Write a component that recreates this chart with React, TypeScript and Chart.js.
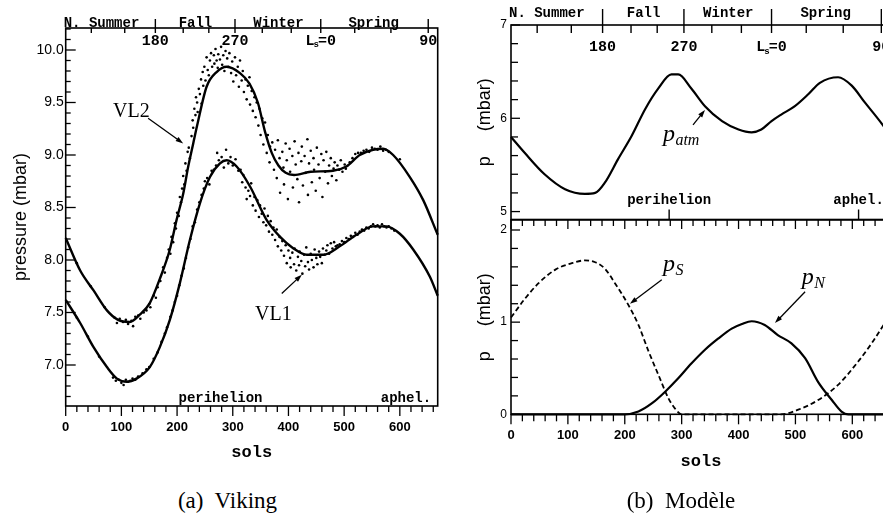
import React, { useEffect, useRef } from "react";
import { Chart, registerables } from "chart.js";

Chart.register(...registerables);

// ---------------- DATA ----------------
// (a) Viking: smoothed fits (sols -> mbar)
const vl2Sols = [0, 26, 50, 74, 94, 115, 133, 151, 169, 187, 199, 211, 220, 229, 236, 253, 271, 289, 313, 330, 345, 358, 370, 382, 395, 410, 440, 480, 504, 528, 552, 570, 588, 618, 642, 668];
const vl2P = [8.21, 7.9, 7.71, 7.52, 7.43, 7.41, 7.48, 7.59, 7.82, 8.1, 8.38, 8.63, 8.89, 9.11, 9.28, 9.65, 9.79, 9.84, 9.78, 9.68, 9.5, 9.22, 9.02, 8.9, 8.83, 8.81, 8.84, 8.85, 8.89, 9.0, 9.05, 9.06, 9.0, 8.79, 8.57, 8.24];
const vl1Sols = [0, 26, 50, 74, 92, 110, 127, 151, 169, 187, 205, 223, 241, 259, 277, 289, 307, 331, 361, 385, 409, 433, 463, 492, 522, 552, 576, 600, 624, 654, 668];
const vl1P = [7.62, 7.4, 7.17, 6.98, 6.87, 6.84, 6.87, 6.98, 7.17, 7.43, 7.78, 8.19, 8.54, 8.79, 8.92, 8.95, 8.89, 8.7, 8.38, 8.22, 8.11, 8.05, 8.05, 8.13, 8.24, 8.32, 8.32, 8.25, 8.1, 7.84, 7.66];

// (a) Viking: daily observations [sol, mbar]
const vl2Obs = [
  [20, 7.97], [45, 7.75], [70, 7.55], [88, 7.45], [92, 7.4], [97, 7.44], [103, 7.41], [108, 7.43], [112, 7.39], [118, 7.42], [121, 7.37], [125, 7.46], [130, 7.47], [134, 7.44], [140, 7.5], [145, 7.52], [150, 7.58], [152, 7.55], [158, 7.66], [162, 7.64], [165, 7.74], [170, 7.8],
  [175, 7.93], [178, 7.88], [182, 8.02], [185, 8.1], [188, 8.06], [190, 8.22], [193, 8.17], [196, 8.35], [198, 8.3], [200, 8.45], [203, 8.42], [205, 8.6], [207, 8.55], [209, 8.68], [211, 8.8], [213, 8.72], [215, 8.92], [217, 8.85], [219, 9.03], [221, 9.07], [223, 8.97],
  [226, 9.18], [228, 9.33], [229, 9.26], [231, 9.44], [233, 9.38], [234, 9.55], [236, 9.5], [237, 9.41], [239, 9.63], [241, 9.58], [243, 9.72], [244, 9.49], [246, 9.79], [247, 9.66], [249, 9.84], [251, 9.71], [253, 9.93], [255, 9.81], [257, 9.76], [259, 9.9], [261, 9.97], [263, 9.84], [266, 9.95], [267, 9.87], [269, 10.01], [271, 9.9], [273, 9.83], [274, 9.96], [277, 9.91], [279, 10.03], [281, 9.86], [283, 9.95], [285, 9.8], [287, 9.99], [290, 9.92], [292, 9.84], [294, 9.97], [297, 9.78], [299, 9.89], [301, 9.7], [304, 9.93], [306, 9.76], [309, 9.84], [311, 9.65], [313, 9.9], [316, 9.71], [318, 9.8], [320, 9.6], [323, 9.72], [325, 9.53], [327, 9.66], [330, 9.74], [331, 9.48], [334, 9.61], [336, 9.42], [339, 9.55], [341, 9.36], [343, 9.5], [346, 9.28], [348, 9.44], [350, 9.19], [353, 9.35], [355, 9.1],
  [358, 9.31], [361, 9.02], [363, 9.19], [366, 8.93], [367, 9.08], [371, 9.12], [374, 8.86], [376, 9.05], [379, 8.78], [381, 9.14], [384, 8.97], [385, 8.64], [389, 9.03], [391, 8.88], [392, 8.72], [395, 9.11], [397, 8.95], [399, 8.58], [402, 9.06], [403, 8.84], [407, 8.99], [408, 8.69], [411, 9.13], [413, 8.91], [416, 8.77], [418, 9.02], [419, 8.55], [423, 8.94], [424, 9.08], [426, 8.71], [429, 8.99], [431, 8.83], [434, 9.15], [435, 8.62], [437, 8.92], [440, 9.04], [442, 8.74], [445, 8.97], [446, 8.86], [449, 8.66], [451, 9.07], [454, 8.91], [456, 8.78], [459, 9.01], [461, 8.6], [463, 8.95], [466, 8.84], [468, 9.03], [471, 8.73], [473, 8.9], [476, 8.97], [478, 8.8], [481, 8.87], [483, 8.93], [486, 8.76], [488, 8.9], [491, 8.86], [494, 8.95], [497, 8.84], [501, 8.91], [503, 8.87],
  [510, 8.93], [515, 8.97], [520, 9.01], [525, 9.02], [530, 9.02], [535, 9.04], [540, 9.05], [545, 9.03], [550, 9.07], [555, 9.06], [560, 9.05], [565, 9.08], [570, 9.04], [575, 9.05], [580, 9.03], [600, 8.96]
];
const vl1Obs = [
  [20, 7.45], [40, 7.27], [60, 7.08], [85, 6.88], [90, 6.85], [95, 6.86], [100, 6.83], [104, 6.81], [108, 6.86], [112, 6.84], [116, 6.85], [120, 6.87], [125, 6.86], [130, 6.89], [138, 6.92], [145, 6.96], [150, 6.98], [158, 7.06], [165, 7.12], [172, 7.22], [178, 7.3], [182, 7.36],
  [188, 7.46], [192, 7.52], [196, 7.6], [200, 7.66], [204, 7.76], [208, 7.85], [212, 7.92], [216, 8.02], [220, 8.12], [224, 8.2], [228, 8.32], [232, 8.36], [236, 8.48], [240, 8.55], [244, 8.62], [248, 8.68], [250, 8.75], [254, 8.78], [258, 8.72], [262, 8.85], [266, 8.86], [270, 8.9], [272, 9.02], [275, 8.95], [280, 8.98], [284, 8.88], [288, 9.05], [292, 8.92], [296, 8.98], [300, 8.9], [305, 8.96], [310, 8.85],
  [314, 8.86], [317, 8.74], [319, 8.81], [323, 8.69], [325, 8.58], [328, 8.66], [331, 8.61], [333, 8.73], [336, 8.52], [339, 8.6], [341, 8.47], [344, 8.57], [347, 8.41], [349, 8.52], [352, 8.44], [355, 8.36], [357, 8.49], [360, 8.33], [363, 8.42], [365, 8.27], [368, 8.37], [371, 8.24], [373, 8.31], [376, 8.19], [379, 8.29], [381, 8.13], [384, 8.22], [387, 8.09], [389, 8.18], [392, 8.04], [395, 8.14], [397, 7.97], [400, 8.09], [403, 8.02], [404, 7.93], [407, 8.07], [410, 7.96], [411, 8.11], [414, 7.9], [417, 8.03], [419, 7.95], [420, 8.08], [423, 7.99], [425, 7.87], [428, 8.05], [430, 7.94], [432, 8.12], [435, 7.98], [437, 7.91], [440, 8.06], [442, 8.0], [445, 7.93], [447, 8.1], [450, 8.02], [452, 7.96], [455, 8.08], [457, 8.03], [460, 7.97], [462, 8.11], [465, 8.05], [468, 8.09], [470, 8.14], [473, 8.06], [476, 8.16], [479, 8.11], [482, 8.17], [485, 8.13],
  [488, 8.14], [492, 8.15], [496, 8.18], [500, 8.17], [504, 8.21], [508, 8.2], [512, 8.23], [516, 8.22], [520, 8.26], [524, 8.24], [528, 8.27], [532, 8.29], [536, 8.28], [540, 8.31], [544, 8.3], [548, 8.32], [552, 8.34], [556, 8.32], [560, 8.33], [564, 8.31], [568, 8.34], [572, 8.32], [576, 8.31], [580, 8.32], [585, 8.3], [590, 8.28]
];

// (b) Modèle
const patmSols = [0, 24, 59, 95, 130, 148, 165, 188, 212, 236, 259, 282, 294, 317, 341, 371, 400, 423, 440, 458, 475, 499, 523, 543, 575, 599, 622, 652, 668];
const patmP = [5.8, 5.63, 5.4, 5.24, 5.19, 5.2, 5.31, 5.56, 5.81, 6.1, 6.32, 6.47, 6.47, 6.32, 6.13, 5.97, 5.88, 5.85, 5.88, 5.97, 6.04, 6.13, 6.26, 6.38, 6.44, 6.35, 6.17, 5.94, 5.8];
const psSols = [0, 24, 48, 78, 107, 130, 148, 165, 183, 206, 224, 242, 259, 277, 288, 300, 475, 505, 540, 575, 610, 634, 655, 668];
const psP = [1.05, 1.25, 1.42, 1.57, 1.64, 1.67, 1.65, 1.58, 1.42, 1.19, 0.97, 0.68, 0.43, 0.17, 0.065, 0, 0, 0.05, 0.155, 0.32, 0.57, 0.77, 0.97, 1.1];
const pnSols = [0, 200, 224, 248, 271, 294, 317, 341, 364, 388, 406, 423, 446, 469, 493, 517, 540, 564, 581, 593, 668];
const pnP = [0, 0, 0.03, 0.12, 0.245, 0.39, 0.55, 0.7, 0.82, 0.93, 0.98, 1.01, 0.97, 0.86, 0.77, 0.61, 0.35, 0.155, 0.03, 0, 0];

// axes / ticks
const solTicks = [0, 100, 200, 300, 400, 500, 600];
const vikingTicks = [7.0, 7.5, 8.0, 8.5, 9.0, 9.5, 10.0];
const atmTicks = [5, 6, 7];
const capTicks = [0, 1, 2];
const lsTickSols = [46, 106, 161, 211, 257, 304, 353, 405, 458, 519, 584, 651];
const lsMajorSols = [161, 304, 458, 651];
const lsLabels = ["180", "270", "Ls=0", "90"];
const seasonNames = ["N. Summer", "Fall", "Winter", "Spring"];
const seasonSols = [0, 233, 382, 553];
const orbitNames = ["perihelion", "aphel."];
const orbitSols = [278, 611];

// annotations (data coordinates)
const vikingLabels = ["VL2", "VL1"];
const vikingLabelAt = [[85, 9.36], [340, 7.43]];
const vikingArrows = [[148, 9.35, 211, 9.11], [388, 7.68, 424, 7.86]];
const atmLabelAt = [267, 5.757];
const atmArrow = [320, 5.93, 341, 6.09];
const capLabels = [["p", "S"], ["p", "N"]];
const capLabelAt = [[267, 1.555], [511, 1.414]];
const capArrows = [[265, 1.46, 209, 1.2], [517, 1.33, 464, 0.99]];

// ---------------- HELPERS ----------------
const MONO = "'Liberation Mono', 'DejaVu Sans Mono', monospace";
const SANS = "'Liberation Sans', Arial, sans-serif";
const SERIF = "'Liberation Serif', 'Times New Roman', serif";

const pts = (xs: number[], ys: number[]) => xs.map((x, i) => ({ x, y: ys[i] }));
const obs = (arr: number[][]) => arr.map(([x, y]) => ({ x, y }));

function seg(ctx: any, x1: number, y1: number, x2: number, y2: number) {
  ctx.beginPath();
  ctx.moveTo(x1, y1);
  ctx.lineTo(x2, y2);
  ctx.stroke();
}

function arrow(ctx: any, x1: number, y1: number, x2: number, y2: number) {
  const a = Math.atan2(y2 - y1, x2 - x1);
  const h = 8, w = 0.32;
  ctx.lineWidth = 1.3;
  seg(ctx, x1, y1, x2 - 5 * Math.cos(a), y2 - 5 * Math.sin(a));
  ctx.beginPath();
  ctx.moveTo(x2, y2);
  ctx.lineTo(x2 - h * Math.cos(a - w), y2 - h * Math.sin(a - w));
  ctx.lineTo(x2 - h * Math.cos(a + w), y2 - h * Math.sin(a + w));
  ctx.closePath();
  ctx.fill();
}

function subLabel(ctx: any, main: string, sub: string, x: number, y: number, size: number) {
  ctx.textAlign = "left";
  ctx.textBaseline = "alphabetic";
  ctx.font = `italic ${size}px ${SERIF}`;
  ctx.fillText(main, x, y);
  const w = ctx.measureText(main).width;
  ctx.font = `italic ${Math.round(size * 0.68)}px ${SERIF}`;
  ctx.fillText(sub, x + w + 0.5, y + size * 0.18);
}

function lsLabel(ctx: any, text: string, cx: number, cy: number) {
  ctx.textBaseline = "middle";
  const big = `bold 15px ${MONO}`;
  const small = `bold 9px ${MONO}`;
  if (text.startsWith("Ls")) {
    const rest = text.slice(2);
    ctx.font = big;
    const wL = ctx.measureText("L").width;
    const wR = ctx.measureText(rest).width;
    ctx.font = small;
    const wS = ctx.measureText("s").width;
    let x = cx - (wL + wS - 2 + wR) / 2;
    ctx.textAlign = "left";
    ctx.font = big;
    ctx.fillText("L", x, cy);
    x += wL - 1;
    ctx.font = small;
    ctx.fillText("s", x, cy + 4);
    x += wS - 1;
    ctx.font = big;
    ctx.fillText(rest, x, cy);
  } else {
    ctx.textAlign = "center";
    ctx.font = big;
    ctx.fillText(text, cx, cy);
  }
}

function drawFrame(chart: any) {
  const { ctx, chartArea: a } = chart;
  ctx.lineWidth = 1.6;
  ctx.strokeRect(a.left, a.top, a.right - a.left, a.bottom - a.top);
}

function drawYTicksIn(chart: any, step: number, majorEvery: number, lenMinor: number, lenMajor: number) {
  const { ctx, chartArea: a, scales } = chart;
  const y = scales.y;
  ctx.lineWidth = 1.3;
  const i0 = Math.ceil(y.min / step - 1e-6);
  const i1 = Math.floor(y.max / step + 1e-6);
  for (let i = i0; i <= i1; i++) {
    const py = y.getPixelForValue(i * step);
    const len = i % majorEvery === 0 ? lenMajor : lenMinor;
    seg(ctx, a.left, py, a.left + len, py);
  }
}

function drawXTicks(chart: any, edgeY: number, dir: number, lenMinor: number, lenMajor: number) {
  const { ctx, scales } = chart;
  const x = scales.x;
  ctx.lineWidth = 1.3;
  for (let i = 0; i * 20 <= x.max; i++) {
    const px = x.getPixelForValue(i * 20);
    const len = i % 5 === 0 ? lenMajor : lenMinor;
    seg(ctx, px, edgeY, px, edgeY + dir * len);
  }
}

function drawSeasonAxis(chart: any, seasonBase: number, lsCenter: number, tallUp: number, tallDown: number, minorLen: number) {
  const { ctx, chartArea: a, scales } = chart;
  const x = scales.x;
  ctx.lineWidth = 1.4;
  lsTickSols.forEach((s) => {
    const px = x.getPixelForValue(s);
    if (lsMajorSols.includes(s)) seg(ctx, px, a.top - tallUp, px, a.top + tallDown);
    else seg(ctx, px, a.top, px, a.top + minorLen);
  });
  ctx.font = `bold 14px ${MONO}`;
  ctx.textBaseline = "alphabetic";
  seasonNames.forEach((n, i) => {
    const px = x.getPixelForValue(seasonSols[i]);
    ctx.textAlign = i === 0 ? "left" : "center";
    ctx.fillText(n, i === 0 ? px - 2 : px, a.top - seasonBase);
  });
  lsLabels.forEach((t, i) => lsLabel(ctx, t, x.getPixelForValue(lsMajorSols[i]), a.top + lsCenter));
}

function drawOrbit(chart: any, base: number, tick: number) {
  const { ctx, chartArea: a, scales } = chart;
  const x = scales.x;
  ctx.font = `bold 14px ${MONO}`;
  ctx.textAlign = "center";
  ctx.textBaseline = "alphabetic";
  orbitNames.forEach((n, i) => {
    const px = x.getPixelForValue(orbitSols[i]);
    ctx.fillText(n, px, a.bottom - base);
    if (tick > 0) {
      ctx.lineWidth = 1.4;
      seg(ctx, px, a.bottom, px, a.bottom - tick);
    }
  });
}

const vikingDecor = {
  id: "vikingDecor",
  afterDraw(chart: any) {
    const { ctx, chartArea: a, scales } = chart;
    const x = scales.x, y = scales.y;
    ctx.save();
    ctx.strokeStyle = "#000";
    ctx.fillStyle = "#000";
    drawFrame(chart);
    drawYTicksIn(chart, 0.1, 5, 5, 10);
    drawXTicks(chart, a.bottom, 1, 6, 10);
    drawSeasonAxis(chart, 1.5, 13, 9, 5, 5);
    drawOrbit(chart, 4.5, 0);
    ctx.font = `20px ${SERIF}`;
    ctx.textAlign = "left";
    ctx.textBaseline = "alphabetic";
    vikingLabels.forEach((t, i) => {
      ctx.fillText(t, x.getPixelForValue(vikingLabelAt[i][0]), y.getPixelForValue(vikingLabelAt[i][1]));
    });
    vikingArrows.forEach((r) => arrow(ctx, x.getPixelForValue(r[0]), y.getPixelForValue(r[1]), x.getPixelForValue(r[2]), y.getPixelForValue(r[3])));
    ctx.restore();
  },
};

const atmDecor = {
  id: "atmDecor",
  afterDraw(chart: any) {
    const { ctx, scales } = chart;
    const x = scales.x, y = scales.y;
    ctx.save();
    ctx.strokeStyle = "#000";
    ctx.fillStyle = "#000";
    drawFrame(chart);
    drawYTicksIn(chart, 0.2, 5, 7, 9);
    drawSeasonAxis(chart, 8, 22.5, 16, 8, 8);
    drawOrbit(chart, 15.5, 10);
    subLabel(ctx, "p", "atm", x.getPixelForValue(atmLabelAt[0]), y.getPixelForValue(atmLabelAt[1]), 24);
    arrow(ctx, x.getPixelForValue(atmArrow[0]), y.getPixelForValue(atmArrow[1]), x.getPixelForValue(atmArrow[2]), y.getPixelForValue(atmArrow[3]));
    ctx.restore();
  },
};

const capDecor = {
  id: "capDecor",
  afterDraw(chart: any) {
    const { ctx, chartArea: a, scales } = chart;
    const x = scales.x, y = scales.y;
    ctx.save();
    ctx.strokeStyle = "#000";
    ctx.fillStyle = "#000";
    drawFrame(chart);
    drawYTicksIn(chart, 0.2, 5, 7, 9);
    drawXTicks(chart, a.top, 1, 6, 9);
    drawXTicks(chart, a.bottom, 1, 7, 10);
    capLabels.forEach((l, i) => subLabel(ctx, l[0], l[1], x.getPixelForValue(capLabelAt[i][0]), y.getPixelForValue(capLabelAt[i][1]), 24));
    capArrows.forEach((r) => arrow(ctx, x.getPixelForValue(r[0]), y.getPixelForValue(r[1]), x.getPixelForValue(r[2]), y.getPixelForValue(r[3])));
    ctx.restore();
  },
};

const fixedTicks = (vals: number[]) => (s: any) => {
  s.ticks = vals.map((v) => ({ value: v }));
};

const fitTo = (prop: string, size: number) => (s: any) => {
  s[prop] = size;
  s.paddingTop = 0;
  s.paddingBottom = 0;
  s.paddingLeft = 0;
  s.paddingRight = 0;
};

const lineDs = (label: string, data: any[], width: number, dash: number[] = []) => ({
  label,
  data,
  showLine: true,
  borderColor: "#000",
  borderWidth: width,
  borderDash: dash,
  pointRadius: 0,
  cubicInterpolationMode: "monotone",
  clip: false,
});
const dotDs = (label: string, data: any[]) => ({
  label,
  data,
  showLine: false,
  pointRadius: 1.3,
  pointBackgroundColor: "#000",
  pointBorderWidth: 0,
});

const baseOptions = {
  responsive: false,
  animation: false,
  events: [],
  plugins: { legend: { display: false }, tooltip: { enabled: false } },
};

const noGrid = { display: false, drawTicks: false };

const yTitle = (text: string, pad: number) => ({
  display: true,
  text,
  color: "#000",
  font: { family: SANS, size: 18 },
  padding: { top: pad, bottom: 0 },
});

function vikingConfig(): any {
  return {
    type: "scatter",
    data: {
      datasets: [
        dotDs("VL2 obs", obs(vl2Obs)),
        dotDs("VL1 obs", obs(vl1Obs)),
        lineDs("VL2", pts(vl2Sols, vl2P), 2.4),
        lineDs("VL1", pts(vl1Sols, vl1P), 2.4),
      ],
    },
    options: {
      ...baseOptions,
      layout: { padding: { left: 0, top: 28, right: 12.3, bottom: 0 } },
      scales: {
        x: {
          type: "linear", position: "bottom", min: 0, max: 668,
          grid: noGrid, border: { display: false },
          afterBuildTicks: fixedTicks(solTicks),
          afterFit: fitTo("height", 69),
          ticks: { color: "#000", font: { family: SANS, size: 13, weight: "bold" }, padding: 14, maxRotation: 0, autoSkip: false },
          title: { display: true, text: "sols", color: "#000", font: { family: MONO, size: 17, weight: "bold" }, padding: { top: 0, bottom: 12 } },
        },
        y: {
          type: "linear", position: "left", min: 6.6095, max: 10.2095,
          grid: noGrid, border: { display: false },
          afterBuildTicks: fixedTicks(vikingTicks),
          afterFit: fitTo("width", 65.7),
          ticks: { color: "#000", font: { family: SANS, size: 14 }, padding: 2, autoSkip: false, callback: (v: any) => Number(v).toFixed(1) },
          title: yTitle("pressure (mbar)", 10),
        },
      },
    },
    plugins: [vikingDecor],
  };
}

function atmConfig(): any {
  return {
    type: "scatter",
    data: { datasets: [lineDs("p_atm", pts(patmSols, patmP), 2.2)] },
    options: {
      ...baseOptions,
      layout: { padding: { left: 0, top: 25, right: 14, bottom: 0.5 } },
      scales: {
        x: { type: "linear", display: false, min: 0, max: 668 },
        y: {
          type: "linear", position: "left", min: 4.915, max: 7,
          grid: noGrid, border: { display: false },
          afterBuildTicks: fixedTicks(atmTicks),
          afterFit: fitTo("width", 66),
          ticks: { color: "#000", font: { family: SANS, size: 12 }, padding: 4, autoSkip: false, callback: (v: any) => String(v) },
          title: yTitle("p     (mbar)", 29),
        },
      },
    },
    plugins: [atmDecor],
  };
}

function capConfig(): any {
  return {
    type: "scatter",
    data: {
      datasets: [
        lineDs("p_N", pts(pnSols, pnP), 2.2),
        lineDs("p_S", pts(psSols, psP), 1.8, [5, 3]),
      ],
    },
    options: {
      ...baseOptions,
      layout: { padding: { left: 0, top: 1, right: 14, bottom: 0 } },
      scales: {
        x: {
          type: "linear", position: "bottom", min: 0, max: 668,
          grid: noGrid, border: { display: false },
          afterBuildTicks: fixedTicks(solTicks),
          afterFit: fitTo("height", 60.7),
          ticks: { color: "#000", font: { family: SANS, size: 13, weight: "bold" }, padding: 13, maxRotation: 0, autoSkip: false },
          title: { display: true, text: "sols", color: "#000", font: { family: MONO, size: 17, weight: "bold" }, padding: { top: 0, bottom: 3.3 } },
        },
        y: {
          type: "linear", position: "left", min: 0, max: 2.1085,
          grid: noGrid, border: { display: false },
          afterBuildTicks: fixedTicks(capTicks),
          afterFit: fitTo("width", 66),
          ticks: { color: "#000", font: { family: SANS, size: 12 }, padding: 4, autoSkip: false, callback: (v: any) => String(v) },
          title: yTitle("p     (mbar)", 29),
        },
      },
    },
    plugins: [capDecor],
  };
}

function ChartCanvas({ make, w, h, left, top }: any) {
  const ref = useRef<HTMLCanvasElement | null>(null);
  useEffect(() => {
    const chart = new Chart(ref.current as HTMLCanvasElement, make());
    return () => chart.destroy();
  }, []);
  return <canvas ref={ref} width={w} height={h} style={{ position: "absolute", left, top, width: w, height: h }} />;
}

const captionStyle: any = {
  position: "absolute",
  top: 489,
  width: 300,
  textAlign: "center",
  fontFamily: SERIF,
  fontSize: 23,
  lineHeight: "23px",
  whiteSpace: "pre",
  color: "#000",
};

export default function App() {
  return (
    <div style={{ position: "absolute", left: 0, top: 0, width: 883, height: 517, overflow: "hidden", background: "#fff" }}>
      <ChartCanvas make={vikingConfig} w={450} h={475} left={0} top={0} />
      <ChartCanvas make={atmConfig} w={460} h={220} left={445} top={0} />
      <ChartCanvas make={capConfig} w={460} h={256} left={445} top={219} />
      <div style={{ ...captionStyle, left: 227.5 - 150 }}>(a)  Viking</div>
      <div style={{ ...captionStyle, left: 681 - 150 }}>(b)  Modèle</div>
    </div>
  );
}
